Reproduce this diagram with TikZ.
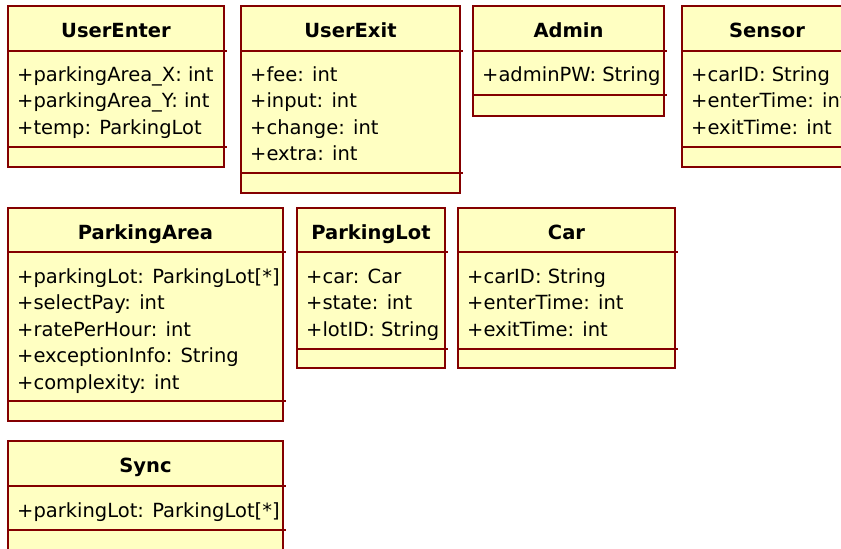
\documentclass[tikz,border=0pt]{standalone}
\usepackage{fontspec}
\setmainfont{DejaVu Sans}
\usepackage{tikz}
\usetikzlibrary{shapes,arrows}
\definecolor{clsfill}{RGB}{255,255,194}
\definecolor{clsline}{RGB}{132,0,0}

\begin{document}
\begin{tikzpicture}[x=1pt,y=-1pt]
\tikzstyle{every node}=[font=\fontsize{19.5}{19.5}\selectfont, inner sep=0pt]
\tikzstyle{clsbox}=[draw=clsline, fill=clsfill, line width=2.2pt]
\tikzstyle{clsdiv}=[draw=clsline, line width=2.2pt]
\tikzstyle{clsname}=[anchor=base, font=\fontsize{19.5}{19.5}\selectfont\bfseries]
\tikzstyle{attr}=[anchor=base west]
\useasboundingbox (0,0) rectangle (841,549);
\clip (0,0) rectangle (841,549);
% UserEnter
\draw[clsbox] (8,6) rectangle (224,167);
\draw[clsdiv] (8,51) -- (227,51);
\draw[clsdiv] (8,147) -- (227,147);
\node[clsname] (userenter) at (116,37) {UserEnter};
\node[attr] (ue1) at (17,81) {+parkingArea\_X: int};
\node[attr] (ue2) at (17,107.5) {+parkingArea\_Y: int};
\node[attr] (ue3) at (17,134) {+temp: ParkingLot};
% UserExit
\draw[clsbox] (241,6) rectangle (460,193);
\draw[clsdiv] (241,51) -- (463,51);
\draw[clsdiv] (241,173) -- (463,173);
\node[clsname] (userexit) at (350.5,37) {UserExit};
\node[attr] (ux1) at (250,81) {+fee: int};
\node[attr] (ux2) at (250,107.5) {+input: int};
\node[attr] (ux3) at (250,134) {+change: int};
\node[attr] (ux4) at (250,160.5) {+extra: int};
% Admin
\draw[clsbox] (473,6) rectangle (664,116);
\draw[clsdiv] (473,51) -- (667,51);
\draw[clsdiv] (473,95) -- (667,95);
\node[clsname] (admin) at (568.5,37) {Admin};
\node[attr] (ad1) at (482,81) {+adminPW: String};
% Sensor
\draw[clsbox] (682,6) rectangle (852,167);
\draw[clsdiv] (682,51) -- (855,51);
\draw[clsdiv] (682,147) -- (855,147);
\node[clsname] (sensor) at (767,37) {Sensor};
\node[attr] (se1) at (691,81) {+carID: String};
\node[attr] (se2) at (691,107.5) {+enterTime: int};
\node[attr] (se3) at (691,134) {+exitTime: int};
% ParkingArea
\draw[clsbox] (8,208) rectangle (283,421);
\draw[clsdiv] (8,252) -- (286,252);
\draw[clsdiv] (8,401) -- (286,401);
\node[clsname] (parkingarea) at (145.5,239) {ParkingArea};
\node[attr] (pa1) at (17,283) {+parkingLot: ParkingLot[*]};
\node[attr] (pa2) at (17,309.5) {+selectPay: int};
\node[attr] (pa3) at (17,336) {+ratePerHour: int};
\node[attr] (pa4) at (17,362.5) {+exceptionInfo: String};
\node[attr] (pa5) at (17,389) {+complexity: int};
% ParkingLot
\draw[clsbox] (297,208) rectangle (445,368);
\draw[clsdiv] (297,252) -- (448,252);
\draw[clsdiv] (297,349) -- (448,349);
\node[clsname] (parkinglot) at (371,239) {ParkingLot};
\node[attr] (pl1) at (306,283) {+car: Car};
\node[attr] (pl2) at (306,309.5) {+state: int};
\node[attr] (pl3) at (306,336) {+lotID: String};
% Car
\draw[clsbox] (458,208) rectangle (675,368);
\draw[clsdiv] (458,252) -- (678,252);
\draw[clsdiv] (458,349) -- (678,349);
\node[clsname] (car) at (566.5,239) {Car};
\node[attr] (ca1) at (467,283) {+carID: String};
\node[attr] (ca2) at (467,309.5) {+enterTime: int};
\node[attr] (ca3) at (467,336) {+exitTime: int};
% Sync
\draw[clsbox] (8,441) rectangle (283,560);
\draw[clsdiv] (8,486) -- (286,486);
\draw[clsdiv] (8,530) -- (286,530);
\node[clsname] (sync) at (145.5,472) {Sync};
\node[attr] (sy1) at (17,517) {+parkingLot: ParkingLot[*]};
\end{tikzpicture}
\end{document}
